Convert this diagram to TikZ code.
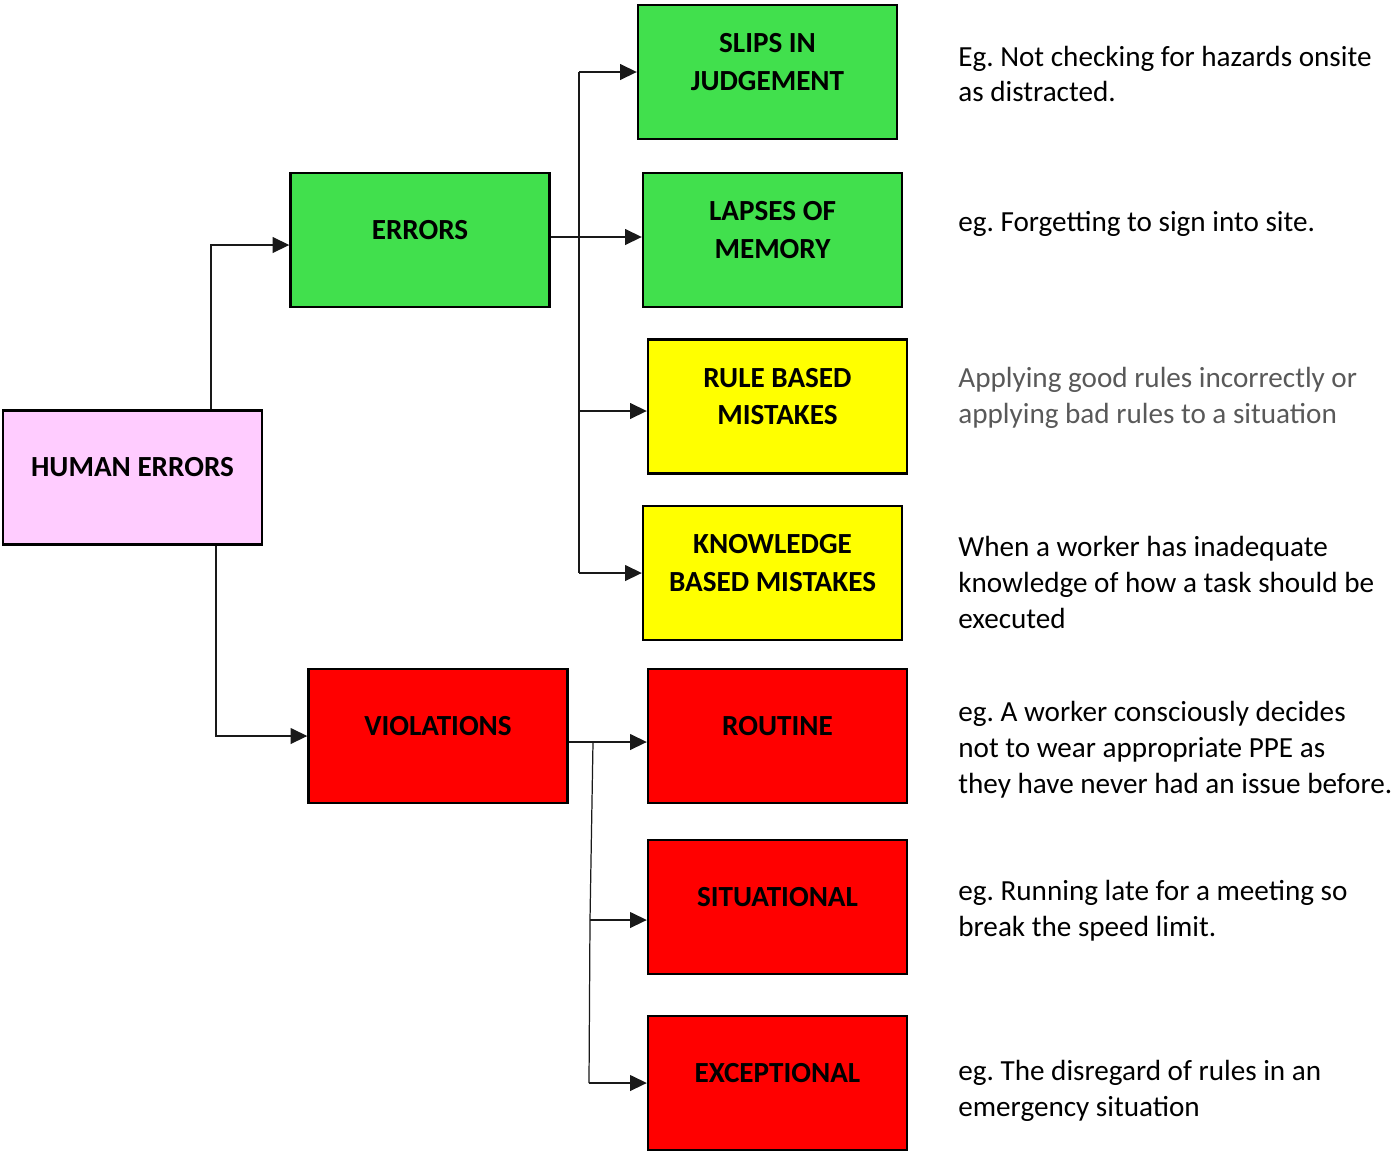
\documentclass[tikz,border=0pt]{standalone}
\usepackage{fontspec}
\setmainfont{Carlito}
\usetikzlibrary{arrows.meta}
\frenchspacing

\definecolor{Human}{HTML}{FFCCFF}
\definecolor{Err}{HTML}{41E04D}
\definecolor{Mist}{HTML}{FFFF00}
\definecolor{Viol}{HTML}{FF0000}
\definecolor{Greytxt}{HTML}{595959}

\begin{document}
\begin{tikzpicture}[x={(0.02cm,0cm)}, y={(0cm,-0.02cm)},
  box/.style={draw=black, line width=1.4pt, minimum width=5.18cm, minimum height=2.68cm, inner sep=0pt},
  boxtext/.style={font=\bfseries\fontsize{16.6}{21.5}\selectfont, align=center, yshift=0.2cm},
  conn/.style={-{Triangle[length=9.5pt,width=9pt]}, line width=0.7pt, black!90},
  trunk/.style={line width=0.7pt, black!90},
  note/.style={anchor=west, align=left, inner sep=0pt, font=\fontsize{16.6}{20.4}\selectfont}]

 \useasboundingbox (0,0) rectangle (1395,1153);

 %%%%%%%%%% Boites %%%%%%%%%%
 \node[box, fill=Human, label={[boxtext]center:HUMAN ERRORS}] (human) at (132.5,477.5) {};
 \node[box, fill=Err, label={[boxtext]center:ERRORS}] (errors) at (420,240) {};
 \node[box, fill=Viol, label={[boxtext]center:VIOLATIONS}] (violations) at (438,736) {};

 \node[box, fill=Err, label={[boxtext]center:SLIPS IN\\JUDGEMENT}] (slips) at (767.5,72) {};
 \node[box, fill=Err, label={[boxtext]center:LAPSES OF\\MEMORY}] (lapses) at (772.5,240) {};
 \node[box, fill=Mist, label={[boxtext]center:RULE BASED\\MISTAKES}] (rule) at (777.5,406.5) {};
 \node[box, fill=Mist, label={[boxtext]center:KNOWLEDGE\\BASED MISTAKES}] (knowledge) at (772.5,573) {};
 \node[box, fill=Viol, label={[boxtext]center:ROUTINE}] (routine) at (777.5,736) {};
 \node[box, fill=Viol, label={[boxtext]center:SITUATIONAL}] (situational) at (777.5,907) {};
 \node[box, fill=Viol, label={[boxtext]center:EXCEPTIONAL}] (exceptional) at (777.5,1083) {};

 %%%%%%%%%% Points de branchement %%%%%%%%%%
 \coordinate (etrunk) at (579,240);
 \coordinate (vtop) at (593,742);
 \coordinate (vmid) at (590,920);
 \coordinate (vbot) at (589,1083);

 %%%%%%%%%% Fleches %%%%%%%%%%
 \draw[conn] ([xshift=1.57cm]human.north) |- ([yshift=-0.1cm]errors.west);
 \draw[conn] ([xshift=1.67cm]human.south) |- (violations.west);

 % Errors
 \draw[conn] ([yshift=0.06cm]errors.east) -- ([yshift=0.06cm]lapses.west);
 \draw[trunk] (etrunk |- slips.west) -- (etrunk |- knowledge.west);
 \draw[conn] (etrunk |- slips.west) -- (slips.west);
 \draw[conn] ([yshift=-0.09cm]etrunk |- rule.west) -- ([yshift=-0.09cm]rule.west);
 \draw[conn] (etrunk |- knowledge.west) -- (knowledge.west);

 % Violations
 \draw[conn] (violations.east |- vtop) -- (routine.west |- vtop);
 \draw[trunk] (vtop) -- (vmid) -- (vbot);
 \draw[conn] (vmid) -- (situational.west |- vmid);
 \draw[conn] (vbot) -- (exceptional.west);

 %%%%%%%%%% Exemples %%%%%%%%%%
 \node[note] (n1) at (958,74) {Eg. Not checking for hazards onsite\\as distracted.};
 \node[note] (n2) at (958,224) {eg. Forgetting to sign into site.};
 \node[note, text=Greytxt] (n3) at (958,397.5) {Applying good rules incorrectly or\\applying bad rules to a situation};
 \node[note] (n4) at (958,582.5) {When a worker has inadequate\\knowledge of how a task should be\\executed};
 \node[note] (n5) at (958,750) {eg. A worker consciously decides\\not to wear appropriate PPE as\\they have never had an issue before.};
 \node[note] (n6) at (958,911) {eg. Running late for a meeting so\\break the speed limit.};
 \node[note] (n7) at (958,1091) {eg. The disregard of rules in an\\emergency situation};

\end{tikzpicture}
\end{document}
